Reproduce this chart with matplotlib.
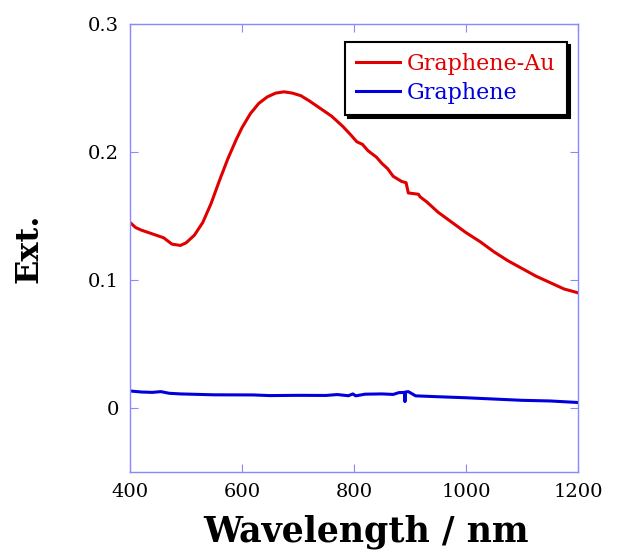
import matplotlib.pyplot as plt

# Extinction spectra
wl_au = [400, 410, 420, 440, 460, 475, 490, 500, 515, 530, 545, 560, 575, 590,
         600, 615, 630, 645, 660, 675, 690, 705, 720, 740, 760, 780, 795, 805,
         815, 825, 840, 850, 860, 870, 885, 893, 897, 915, 918, 930, 950, 975,
         1000, 1025, 1050, 1075, 1100, 1125, 1150, 1175, 1200]
ext_au = [0.145, 0.141, 0.139, 0.136, 0.133, 0.128, 0.127, 0.129, 0.135, 0.145,
          0.160, 0.178, 0.195, 0.210, 0.219, 0.230, 0.238, 0.243, 0.246, 0.247,
          0.246, 0.244, 0.240, 0.234, 0.228, 0.220, 0.213, 0.208, 0.206, 0.201,
          0.196, 0.191, 0.187, 0.181, 0.177, 0.176, 0.168, 0.167, 0.165, 0.161,
          0.153, 0.145, 0.137, 0.130, 0.122, 0.115, 0.109, 0.103, 0.098, 0.093,
          0.090]

wl_g = [400, 420, 440, 455, 470, 490, 550, 620, 650, 700, 750, 770, 790, 798,
        803, 820, 850, 870, 880, 890, 891, 892, 897, 910, 950, 1000, 1050,
        1100, 1150, 1200]
ext_g = [0.0133, 0.0125, 0.0122, 0.0128, 0.0115, 0.0110, 0.0103, 0.0102,
         0.0097, 0.0099, 0.0098, 0.0105, 0.0096, 0.0110, 0.0095, 0.0108,
         0.0110, 0.0106, 0.0120, 0.0122, 0.0050, 0.0125, 0.0128, 0.0095,
         0.0088, 0.0080, 0.0070, 0.0060, 0.0055, 0.0043]

plt.rcParams['font.family'] = ['DejaVu Serif']

fig = plt.figure(figsize=(6.2, 5.5), dpi=100)
ax = fig.add_axes([130 / 620, 1 - 472 / 550, 448 / 620, 448 / 550])

red = '#e00000'
blue = '#0000dd'
ax.plot(wl_au, ext_au, color=red, lw=2.2, label='Graphene-Au')
ax.plot(wl_g, ext_g, color=blue, lw=2.2, label='Graphene')

ax.set_xlim(400, 1200)
ax.set_ylim(-0.05, 0.3)
ax.set_xticks([400, 600, 800, 1000, 1200])
ax.set_yticks([0, 0.1, 0.2, 0.3])
ax.set_yticklabels(['0', '0.1', '0.2', '0.3'])

spine_col = '#8888ff'
for s in ax.spines.values():
    s.set_color(spine_col)
    s.set_linewidth(1.0)
ax.tick_params(direction='in', top=True, right=True, color=spine_col,
               length=6, labelsize=14, pad=8)

ax.set_xlabel('Wavelength / nm', fontsize=25, fontweight='bold')
ax.xaxis.set_label_coords(0.527, -0.095)
ax.set_ylabel('Ext.', fontsize=23, fontweight='bold')
ax.yaxis.set_label_coords(-0.19, 0.5)

leg = ax.legend(loc='upper right', bbox_to_anchor=(0.975, 0.96),
                borderaxespad=0, fancybox=False, framealpha=1,
                edgecolor='black', fontsize=16, handlelength=2.0,
                handletextpad=0.3, borderpad=0.5, labelspacing=0.3,
                shadow={'color': 'black', 'alpha': 1})
leg.get_frame().set_linewidth(1.5)
for txt, col in zip(leg.get_texts(), [red, blue]):
    txt.set_color(col)

fig.savefig('out.png', dpi=100)
